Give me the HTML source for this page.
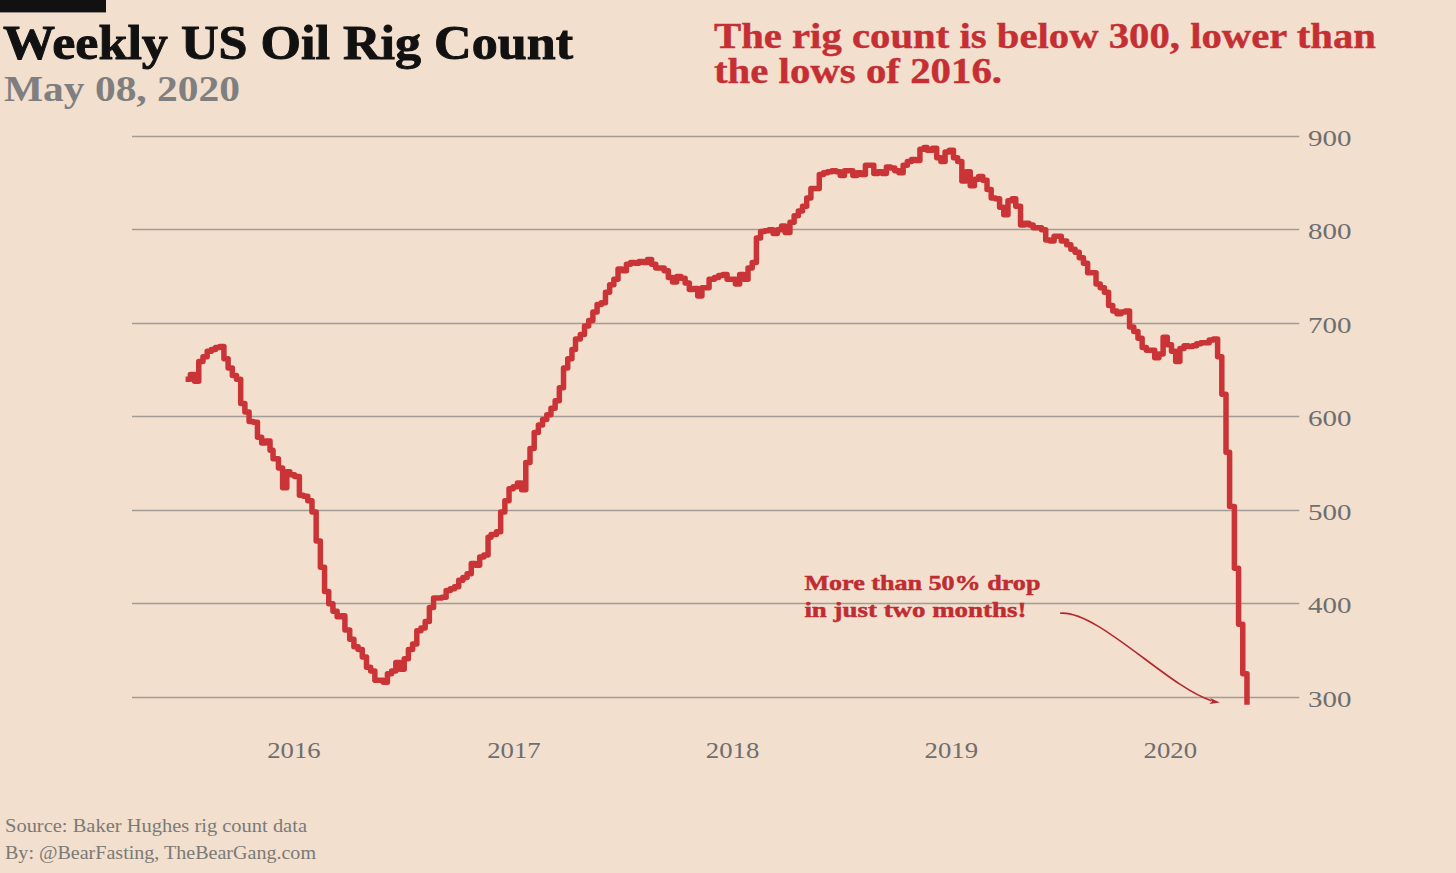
<!DOCTYPE html>
<html><head><meta charset="utf-8"><title>Weekly US Oil Rig Count</title>
<style>
html,body{margin:0;padding:0;background:#F2DFCE;}
body{width:1456px;height:873px;overflow:hidden;}
svg{display:block;}
text{font-family:"Liberation Serif",serif;}
.t{font-weight:bold;fill:#111;font-size:48px;stroke:#111;stroke-width:0.9px;}
.st{font-weight:bold;fill:#7f7f7f;font-size:35px;}
.an{font-weight:bold;fill:#C52F34;font-size:35px;stroke:#C52F34;stroke-width:0.4px;}
.an2{font-weight:bold;fill:#BF2C32;font-size:21px;stroke:#BF2C32;stroke-width:0.45px;}
.ax{fill:#6E6E6E;font-size:23px;}
.ft{fill:#7a7a76;font-size:19px;}
.grid line{stroke:#A39B95;stroke-width:1.5;}
</style></head>
<body>
<svg width="1456" height="873" viewBox="0 0 1456 873">
<rect x="0" y="0" width="1456" height="873" fill="#F2DFCE"/>
<rect x="0" y="0" width="106" height="12.4" fill="#111"/>
<text class="t" x="3" y="59.3" textLength="570" lengthAdjust="spacingAndGlyphs">Weekly US Oil Rig Count</text>
<text class="st" x="4" y="101" textLength="236" lengthAdjust="spacingAndGlyphs">May 08, 2020</text>
<text class="an" x="714" y="47.5" textLength="662" lengthAdjust="spacingAndGlyphs">The rig count is below 300, lower than</text>
<text class="an" x="714" y="83.2" textLength="288" lengthAdjust="spacingAndGlyphs">the lows of 2016.</text>
<g class="grid"><line x1="132" x2="1299.3" y1="697.50" y2="697.50"/><line x1="132" x2="1299.3" y1="603.50" y2="603.50"/><line x1="132" x2="1299.3" y1="510.50" y2="510.50"/><line x1="132" x2="1299.3" y1="416.50" y2="416.50"/><line x1="132" x2="1299.3" y1="323.50" y2="323.50"/><line x1="132" x2="1299.3" y1="229.50" y2="229.50"/><line x1="132" x2="1299.3" y1="136.50" y2="136.50"/></g>
<g class="ax"><text x="1308" y="706.70" textLength="43.5" lengthAdjust="spacingAndGlyphs">300</text><text x="1308" y="612.70" textLength="43.5" lengthAdjust="spacingAndGlyphs">400</text><text x="1308" y="519.70" textLength="43.5" lengthAdjust="spacingAndGlyphs">500</text><text x="1308" y="425.70" textLength="43.5" lengthAdjust="spacingAndGlyphs">600</text><text x="1308" y="332.70" textLength="43.5" lengthAdjust="spacingAndGlyphs">700</text><text x="1308" y="238.70" textLength="43.5" lengthAdjust="spacingAndGlyphs">800</text><text x="1308" y="145.70" textLength="43.5" lengthAdjust="spacingAndGlyphs">900</text><text x="267.2" y="758.4" textLength="53.5" lengthAdjust="spacingAndGlyphs">2016</text><text x="487.2" y="758.4" textLength="53.5" lengthAdjust="spacingAndGlyphs">2017</text><text x="705.8" y="758.4" textLength="53.5" lengthAdjust="spacingAndGlyphs">2018</text><text x="924.5" y="758.4" textLength="53.5" lengthAdjust="spacingAndGlyphs">2019</text><text x="1143.5" y="758.4" textLength="53.5" lengthAdjust="spacingAndGlyphs">2020</text></g>
<path d="M185.59 379.30 H190.38 V374.62 H194.57 V381.17 H198.77 V361.54 H202.96 V356.86 H207.15 V351.25 H211.34 V349.38 H215.54 V347.51 H219.73 V346.58 H223.92 V358.73 H228.12 V368.08 H232.31 V375.56 H236.50 V379.30 H240.69 V403.61 H244.89 V412.03 H249.08 V421.38 H253.27 V422.31 H257.46 V437.27 H261.66 V442.88 H265.85 V441.01 H270.04 V450.36 H273.04 V458.78 H278.43 V468.12 H282.62 V487.76 H286.81 V471.87 H289.81 V474.67 H294.60 V476.54 H299.39 V495.24 H303.59 V496.18 H307.78 V500.85 H311.97 V512.07 H316.16 V541.06 H320.36 V567.24 H324.55 V591.55 H328.74 V603.70 H332.94 V611.18 H337.13 V616.79 H341.32 V615.86 H344.91 V629.88 H349.71 V639.23 H353.90 V646.71 H358.09 V649.52 H362.28 V657.00 H366.48 V667.28 H370.67 V671.02 H374.86 V680.37 H379.06 V680.37 H383.25 V682.24 H387.44 V673.83 H391.63 V671.02 H395.83 V662.61 H400.02 V669.15 H404.21 V658.87 H408.41 V649.52 H412.60 V643.91 H416.79 V630.82 H420.98 V628.01 H425.18 V621.47 H429.37 V607.44 H433.56 V598.09 H437.75 V598.09 H441.95 V597.16 H446.14 V590.61 H450.33 V588.74 H454.53 V586.87 H458.72 V580.33 H462.91 V577.52 H467.10 V573.78 H471.30 V563.50 H475.49 V565.37 H479.68 V556.95 H483.88 V555.08 H488.07 V537.32 H491.06 V534.51 H496.45 V531.71 H500.65 V512.07 H504.84 V500.85 H509.03 V488.70 H513.23 V486.83 H517.42 V483.09 H521.61 V489.63 H525.80 V462.52 H530.00 V448.49 H534.19 V432.60 H538.38 V425.12 H542.57 V419.51 H546.77 V414.83 H550.96 V408.29 H555.15 V400.81 H559.35 V387.72 H563.54 V368.08 H567.73 V358.73 H571.92 V349.38 H575.52 V339.10 H580.31 V334.42 H584.50 V326.01 H588.70 V320.40 H592.89 V311.98 H597.08 V304.50 H601.27 V302.63 H605.47 V292.35 H609.66 V284.87 H613.85 V279.25 H618.04 V268.97 H622.24 V270.84 H626.43 V264.30 H630.62 V262.43 H634.82 V263.36 H639.01 V261.49 H643.20 V262.43 H647.39 V259.62 H651.59 V264.30 H655.78 V268.04 H659.97 V268.04 H664.17 V270.84 H668.36 V277.39 H672.55 V282.06 H676.74 V276.45 H680.94 V278.32 H685.13 V283.00 H689.32 V289.54 H693.52 V288.61 H697.71 V296.09 H701.90 V287.67 H706.09 V287.67 H709.09 V279.25 H714.48 V277.39 H718.67 V275.52 H722.86 V274.58 H727.06 V279.25 H731.25 V279.25 H735.44 V283.93 H739.64 V274.58 H743.83 V279.25 H748.02 V268.04 H752.21 V262.43 H756.41 V238.12 H760.60 V231.57 H764.79 V230.63 H768.99 V229.70 H773.18 V233.44 H777.37 V229.70 H781.56 V225.96 H785.16 V232.50 H789.95 V222.22 H794.14 V215.68 H798.33 V211.00 H802.53 V206.33 H806.72 V197.91 H810.91 V188.56 H815.11 V188.56 H819.30 V174.53 H823.49 V172.66 H827.68 V171.73 H831.88 V170.79 H836.07 V171.73 H840.26 V175.47 H844.46 V170.79 H848.65 V170.79 H852.84 V175.47 H857.03 V172.66 H861.23 V174.53 H865.42 V165.19 H869.61 V165.19 H873.81 V173.60 H878.00 V171.73 H882.19 V173.60 H886.38 V167.06 H890.58 V167.99 H894.77 V170.79 H898.96 V172.66 H903.15 V165.19 H907.35 V161.45 H911.54 V159.58 H915.73 V160.51 H919.93 V149.29 H924.12 V147.42 H927.11 V150.23 H932.50 V148.36 H936.70 V157.71 H940.89 V161.45 H945.08 V152.10 H949.28 V150.23 H953.47 V157.71 H957.66 V161.45 H961.85 V181.08 H966.05 V171.73 H970.24 V185.75 H974.43 V179.21 H978.62 V176.40 H982.82 V180.14 H987.01 V189.50 H991.20 V197.91 H995.40 V198.85 H999.59 V207.26 H1003.78 V214.74 H1007.97 V200.72 H1012.17 V198.85 H1015.76 V206.33 H1020.55 V225.03 H1024.75 V223.16 H1028.94 V225.03 H1033.13 V227.83 H1037.32 V227.83 H1041.52 V229.70 H1045.71 V239.99 H1049.90 V240.92 H1054.09 V236.25 H1058.29 V236.25 H1061.28 V240.92 H1066.67 V244.66 H1070.87 V249.34 H1075.06 V252.14 H1079.25 V257.75 H1083.44 V263.36 H1087.64 V272.71 H1091.83 V272.71 H1096.02 V283.93 H1100.22 V287.67 H1104.41 V292.35 H1108.60 V305.44 H1112.79 V311.05 H1116.99 V313.85 H1121.18 V311.98 H1125.37 V311.05 H1129.57 V326.94 H1133.76 V331.62 H1137.95 V338.16 H1142.14 V347.51 H1146.34 V350.31 H1149.33 V350.31 H1154.72 V357.80 H1158.91 V354.06 H1163.11 V337.23 H1167.30 V344.71 H1171.49 V351.25 H1175.69 V361.54 H1179.88 V348.45 H1184.07 V345.64 H1188.26 V346.58 H1192.46 V345.64 H1196.65 V343.77 H1200.84 V342.84 H1205.04 V342.84 H1209.23 V340.03 H1213.42 V339.10 H1217.61 V356.86 H1221.81 V394.26 H1226.00 V452.23 H1229.59 V506.46 H1234.38 V568.17 H1238.58 V624.27 H1242.77 V673.83 H1246.96 V704.68" fill="none" stroke="#CB3436" stroke-width="5.5" stroke-linejoin="round" stroke-linecap="butt"/>
<text class="an2" x="804.4" y="589.9" textLength="236" lengthAdjust="spacingAndGlyphs">More than 50% drop</text>
<text class="an2" x="804.4" y="616.7" textLength="222" lengthAdjust="spacingAndGlyphs">in just two months!</text>
<path d="M1060.1 613.2 C1097.7 609.8 1168.1 687.1 1211.5 700.7" fill="none" stroke="#B5282E" stroke-width="1.6"/>
<path d="M1219.8 702.6 L1210.2 697.9 L1212.2 701.2 L1209.4 704.1 Z" fill="#B5282E"/>
<text class="ft" x="5" y="832.2" textLength="302" lengthAdjust="spacingAndGlyphs">Source: Baker Hughes rig count data</text>
<text class="ft" x="5" y="858.7" textLength="311" lengthAdjust="spacingAndGlyphs">By: @BearFasting, TheBearGang.com</text>
</svg>
</body></html>
